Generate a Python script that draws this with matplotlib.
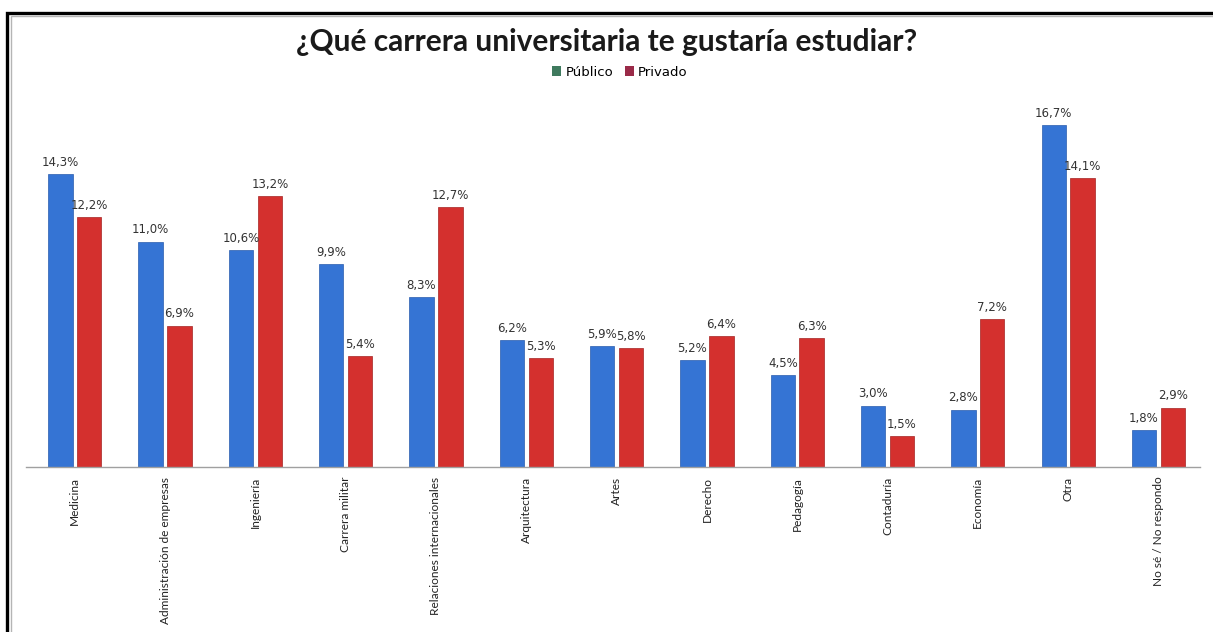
import numpy as np
import matplotlib
matplotlib.use("Agg")
import matplotlib.pyplot as plt
from matplotlib.patches import Rectangle, Patch

# datos
carreras = ["Medicina", "Administración de empresas", "Ingeniería", "Carrera militar",
            "Relaciones internacionales", "Arquitectura", "Artes", "Derecho",
            "Pedagogía", "Contaduría", "Economía", "Otra", "No sé / No respondo"]
publico = [14.3, 11.0, 10.6, 9.9, 8.3, 6.2, 5.9, 5.2, 4.5, 3.0, 2.8, 16.7, 1.8]
privado = [12.2, 6.9, 13.2, 5.4, 12.7, 5.3, 5.8, 6.4, 6.3, 1.5, 7.2, 14.1, 2.9]

W, H = 1213, 632
fig = plt.figure(figsize=(W / 100, H / 100), dpi=100)

# marcos exteriores
fig.add_artist(Rectangle((7 / W, -0.05), 1.2, 1 - 13 / H + 0.05, transform=fig.transFigure,
                         fill=False, edgecolor="black", linewidth=2.4))
fig.add_artist(Rectangle((10.5 / W, -0.05), 1.2, 1 - 15.5 / H + 0.05, transform=fig.transFigure,
                         fill=False, edgecolor="#b5b5b5", linewidth=1))

base_y = 467
top_y = 98
ax = fig.add_axes([26 / W, (H - base_y) / H, (1200 - 26) / W, (base_y - top_y) / H])

x = np.arange(len(carreras))
bw = 0.27
c_pub = "#3574d4"
c_pri = "#d4302e"
ax.bar(x - 0.16, publico, bw, color=c_pub, edgecolor="#2a5cae", linewidth=0.5)
ax.bar(x + 0.16, privado, bw, color=c_pri, edgecolor="#a52322", linewidth=0.5)

lbl = dict(fontsize=8.5, color="#333333", ha="center", va="bottom", family="DejaVu Sans")
for xi, v in zip(x - 0.16, publico):
    ax.text(xi, v + 0.25, f"{v:.1f}%".replace(".", ","), **lbl)
for xi, v in zip(x + 0.16, privado):
    ax.text(xi, v + 0.25, f"{v:.1f}%".replace(".", ","), **lbl)

ax.set_xlim(-0.54, 12.46)
ax.set_ylim(0, 18)
for s in ["top", "right", "left"]:
    ax.spines[s].set_visible(False)
ax.spines["bottom"].set_color("#a0a0a0")
ax.spines["bottom"].set_linewidth(1)
ax.set_yticks([])
ax.set_xticks(x)
ax.set_xticklabels(carreras, rotation=90, fontsize=8.6, family="Lato", color="#222222")
ax.tick_params(axis="x", length=0, pad=7)

fig.text(0.5, 1 - 42 / H, "¿Qué carrera universitaria te gustaría estudiar?",
         ha="center", va="center", fontsize=21.5, fontweight="bold", family="Lato",
         color="#1a1a1a")

handles = [Patch(facecolor="#3f7a5e", edgecolor="none"),
           Patch(facecolor="#9a2a48", edgecolor="none")]
fig.legend(handles, ["Público", "Privado"], loc="center", bbox_to_anchor=(620 / W, 1 - 72 / H),
           ncol=2, frameon=False, handlelength=0.7, handleheight=0.7,
           handletextpad=0.3, columnspacing=0.9, prop={"family": "DejaVu Sans", "size": 9.5})

fig.savefig("out.png", dpi=100, facecolor="white")
